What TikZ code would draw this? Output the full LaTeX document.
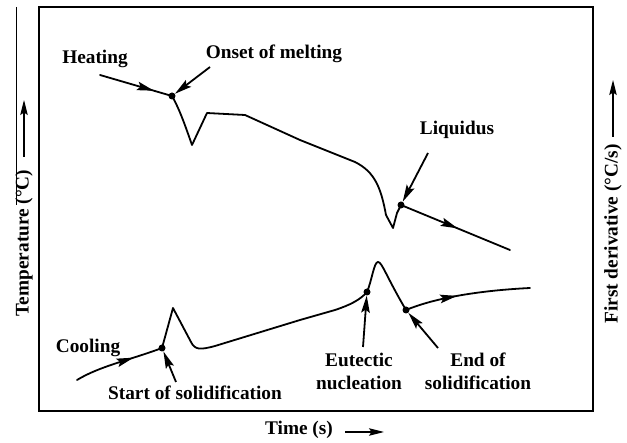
\documentclass[tikz,border=0pt]{standalone}
\usepackage{fontspec}
\setmainfont{Liberation Serif}
\usetikzlibrary{arrows.meta,decorations.markings}
\begin{document}
\begin{tikzpicture}[x=1pt,y=-1pt,
  lbl/.style={font=\fontsize{19.3}{23}\selectfont\bfseries, inner sep=0pt, align=center},
  curve/.style={line width=1.8pt, line join=round, line cap=round},
  dotnode/.style={circle, fill=black, inner sep=0pt, minimum size=7pt},
  ann/.style={line width=1.8pt, -{Stealth[length=17pt,width=8.5pt,inset=3pt]}},
  axarrow/.style={line width=1.2pt, -{Stealth[length=15pt,width=7.5pt,inset=2.5pt]}},
  midarrow/.style={postaction={decorate}, decoration={markings, mark=at position #1 with {\arrow{Stealth[length=17pt,width=8.5pt,inset=3pt]}}}},
]
\useasboundingbox (0,0) rectangle (627,443);
% frame
\draw[line width=2.6pt] (39,7) rectangle (593,411);
\draw[line width=0.8pt] (16,7) -- (16,205);

% dots
\node[dotnode] (d1) at (172,96) {};
\node[dotnode] (d2) at (401,205) {};
\node[dotnode] (d3) at (162,348) {};
\node[dotnode] (d4) at (367,292) {};
\node[dotnode] (d5) at (406,310) {};

% heating curve
\coordinate (h0) at (100,75);
\coordinate (h1) at (510,250);
\draw[curve, midarrow=0.75] (h0) -- (d1.center);
\draw[curve] (d1.center) .. controls (180,110) and (186,128) .. (192,145) -- (207,113) -- (245,115) -- (300,140) -- (355,162)
  .. controls (375,172) and (381,188) .. (386,215) -- (393,228) -- (397,213) -- (d2.center);
\draw[curve, midarrow=0.52] (d2.center) -- (h1);

% cooling curve
\coordinate (c0) at (77,380);
\coordinate (c1) at (530,288);
\draw[curve, midarrow=0.67] (c0) .. controls (100,366) and (130,360) .. (d3.center);
\draw[curve] (d3.center) -- (173,308) -- (191,342) .. controls (195,350) and (200,350) .. (215,346)
  -- (300,320) -- (335,310) .. controls (350,305) and (360,300) .. (d4.center)
  .. controls (372,280) and (374,262) .. (378,262) .. controls (382,262) and (386,276) .. (d5.center);
\draw[curve, midarrow=0.42] (d5.center) .. controls (430,300) and (470,291) .. (c1);

% labels
\node[lbl] (heat) at (95,59) {Heating};
\node[lbl] (onset) at (274,54) {Onset of melting};
\node[lbl] (liq) at (457,130) {Liquidus};
\node[lbl] (cool) at (88,348) {Cooling};
\node[lbl] (start) at (195,393) {Start of solidification};
\node[lbl] (eut) at (359,371) {Eutectic\\nucleation};
\node[lbl] (endsol) at (478,371) {End of\\solidification};

% annotation arrows
\coordinate (onsetT) at (210,67);
\coordinate (liqT) at (428,153);
\coordinate (startT) at (176,382);
\coordinate (eutT) at (363,347);
\coordinate (endT) at (438,348);
\draw[ann] (onsetT) -- (d1);
\draw[ann] (liqT) -- (d2);
\draw[ann] (startT) -- (d3);
\draw[ann] (eutT) -- (d4);
\draw[ann] (endT) -- (d5);

% axis labels
\node[lbl, rotate=90] (ylab) at (24,243) {Temperature (°C)};
\node[lbl, rotate=90] (y2lab) at (613,234) {First derivative (°C/s)};
\node[lbl] (xlab) at (299,430) {Time (s)};
\coordinate (ya0) at (24,157); \coordinate (ya1) at (24,100);
\coordinate (yb0) at (613,137); \coordinate (yb1) at (613,80);
\coordinate (xa0) at (345,432); \coordinate (xa1) at (384,432);
\draw[axarrow] (ya0) -- (ya1);
\draw[axarrow] (yb0) -- (yb1);
\draw[axarrow] (xa0) -- (xa1);
\end{tikzpicture}
\end{document}
